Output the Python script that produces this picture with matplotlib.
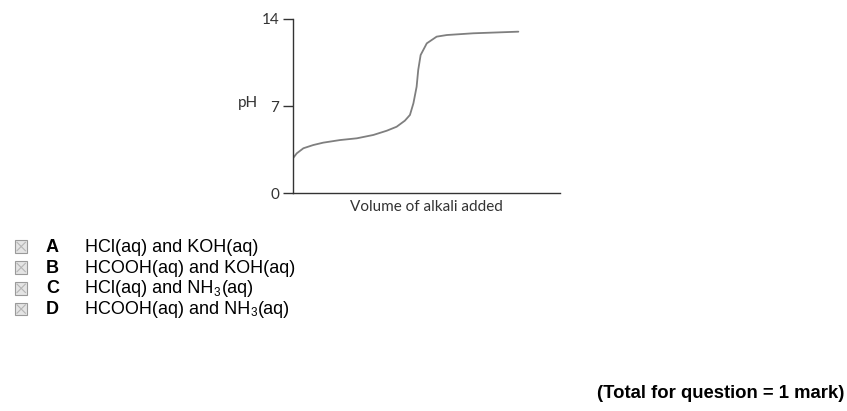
import matplotlib
matplotlib.use("Agg")
import matplotlib.pyplot as plt
from matplotlib.patches import Rectangle
from matplotlib.lines import Line2D

# Data (volume in arbitrary units, pH)
volume = [0.0, 0.7, 1.95, 3.8, 5.65, 8.8, 11.95, 15.05, 17.55, 19.4,
          20.95, 21.9, 22.55, 23.15, 23.45, 23.9, 25.05, 26.9, 28.8, 33.75, 42.2]
ph = [2.8, 3.19, 3.60, 3.86, 4.05, 4.26, 4.40, 4.67, 5.01, 5.33,
      5.82, 6.28, 7.22, 8.55, 9.90, 11.10, 12.04, 12.58, 12.71, 12.85, 12.98]
yticks = [0, 7, 14]
xlabel = "Volume of alkali added"
ylabel = "pH"

options = ["A", "B", "C", "D"]
# each answer as (text, subscript, text) pieces
answers = [("HCl(aq) and KOH(aq)", "", ""),
           ("HCOOH(aq) and KOH(aq)", "", ""),
           ("HCl(aq) and NH", "3", "(aq)"),
           ("HCOOH(aq) and NH", "3", "(aq)")]
total = "(Total for question = 1 mark)"

W, H = 847, 411
fig = plt.figure(figsize=(W / 100, H / 100), dpi=100)
renderer = fig.canvas.get_renderer()

ax = fig.add_axes([293 / W, 1 - 193 / H, (560 - 293) / W, (193 - 19) / H])
ax.plot(volume, ph, color='#7f7f7f', lw=1.3, solid_capstyle='round', solid_joinstyle='round')
ax.set_xlim(0, 50)
ax.set_ylim(0, 14)
ax.set_yticks(yticks)
ax.set_xticks([])
for s in ['top', 'right']:
    ax.spines[s].set_visible(False)
for s in ['left', 'bottom']:
    ax.spines[s].set_color('#333333')
    ax.spines[s].set_linewidth(1.0)
ax.tick_params(axis='y', direction='out', length=7, width=1.0, color='#333333',
               pad=3, labelsize=11, labelcolor='#333333')
for lab in ax.get_yticklabels():
    lab.set_fontfamily('Lato')
ax.set_xlabel(xlabel, fontsize=11, family='Lato', color='#333333', labelpad=5)
fig.text(248 / W, 1 - 103 / H, ylabel, fontsize=11, family='Lato', color='#333333',
         ha='center', va='center')

FS = 13
# answer options
row_y = [246.5, 267.5, 288.3, 309.0]
for opt, (t1, sub, t2), yc in zip(options, answers, row_y):
    x0, y0, s = 15, yc - 6.2, 12.4
    fig.patches.append(Rectangle((x0 / W, 1 - (y0 + s) / H), s / W, s / H,
                                 transform=fig.transFigure, facecolor='#e4e4e4',
                                 edgecolor='#9a9a9a', lw=0.8))
    fig.lines.append(Line2D([(x0 + 2) / W, (x0 + s - 2) / W],
                            [1 - (y0 + 2) / H, 1 - (y0 + s - 2) / H],
                            transform=fig.transFigure, color='#b5b5b5', lw=0.8))
    fig.lines.append(Line2D([(x0 + 2) / W, (x0 + s - 2) / W],
                            [1 - (y0 + s - 2) / H, 1 - (y0 + 2) / H],
                            transform=fig.transFigure, color='#b5b5b5', lw=0.8))
    base = 1 - (yc + 5) / H
    fig.text(46 / W, base, opt, fontsize=FS, fontweight='bold',
             family='Liberation Sans', ha='left', va='baseline')
    t = fig.text(85 / W, base, t1, fontsize=FS, family='Liberation Sans',
                 ha='left', va='baseline')
    if sub:
        x = t.get_window_extent(renderer).x1 + 0.5
        ts = fig.text(x / W, base - 2.5 / H, sub, fontsize=FS * 0.65,
                      family='Liberation Sans', ha='left', va='baseline')
        x = ts.get_window_extent(renderer).x1 + 1.0
        fig.text(x / W, base, t2, fontsize=FS, family='Liberation Sans',
                 ha='left', va='baseline')

fig.text(844 / W, 1 - 393 / H, total, fontsize=13.3, fontweight='bold',
         family='Liberation Sans', ha='right', va='center')

fig.savefig('out.png', dpi=100)
